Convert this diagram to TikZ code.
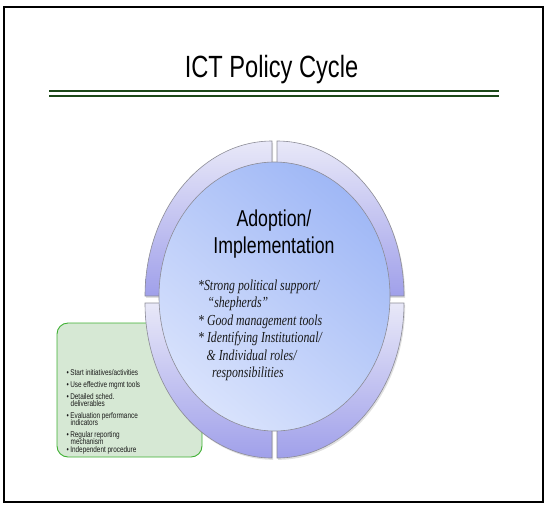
\documentclass[tikz,border=0pt]{standalone}
\usepackage{fontspec}
\setmainfont{Liberation Sans}[FakeStretch=0.77]
\newfontfamily\notefont{Liberation Serif}[FakeStretch=0.77]
\definecolor{rulegreen}{RGB}{28,72,24}
\definecolor{ringlight}{RGB}{232,232,248}
\definecolor{ringdark}{RGB}{160,160,234}
\definecolor{ringedge}{RGB}{140,140,150}
\definecolor{hublight}{RGB}{216,226,252}
\definecolor{hubdark}{RGB}{160,184,246}
\definecolor{boxfill}{RGB}{214,232,212}
\definecolor{boxedge}{RGB}{62,176,50}
\definecolor{inktext}{RGB}{25,25,25}
\tikzset{
  frameline/.style={draw=black, line width=2pt},
  ruleline/.style={draw=rulegreen},
  segment/.style={draw=ringedge, line width=0.6pt, top color=ringlight, bottom color=ringdark},
  segshadow/.style={fill=black, opacity=0.12},
  hub/.style={draw=ringedge, line width=0.6pt, shading=axis, top color=hubdark, bottom color=hublight, shading angle=-40},
  taskbox/.style={draw=boxedge, line width=0.9pt, fill=boxfill, rounded corners=11pt},
  titletext/.style={font=\fontsize{30.7}{34}\selectfont, text=black, anchor=base, inner sep=0pt},
  hubtext/.style={font=\fontsize{23}{26}\selectfont, text=black, anchor=base, inner sep=0pt},
  notetext/.style={font=\notefont\itshape\fontsize{15.3}{17}\selectfont, text=inktext, anchor=base west, inner sep=0pt},
  tasktext/.style={font=\fontsize{8.3}{9}\selectfont, text=inktext, anchor=base west, inner sep=0pt}
}
\begin{document}
\begin{tikzpicture}[x=1pt,y=-1pt]
\useasboundingbox (0,0) rectangle (545,504);

% slide frame
\draw[frameline] (3.5,7) rectangle (542.5,502);

% title and double rule
\node[titletext] (title) at (271.5,77) {ICT Policy Cycle};
\coordinate (ruleA1) at (49,91.3);
\coordinate (ruleA2) at (499,91.3);
\coordinate (ruleB1) at (49,96.3);
\coordinate (ruleB2) at (499,96.3);
\draw[ruleline, line width=2.3pt] (ruleA1) -- (ruleA2);
\draw[ruleline, line width=1.8pt] (ruleB1) -- (ruleB2);

% task list box, partly hidden behind the ring
\draw[taskbox] (57,323) rectangle (202,457);

% ring of four quarter segments
\def\cx{274.5}\def\cy{299.5}\def\gx{2.5}\def\gy{3.5}\def\rx{127}\def\ry{155}
\begin{scope}[shift={(1.2,1.8)}]
  \fill[segshadow] (\cx-\gx,\cy-\gy) -- ++(-\rx,0) arc[start angle=180,end angle=270,x radius=\rx,y radius=\ry] -- cycle;
  \fill[segshadow] (\cx+\gx,\cy-\gy) -- ++(0,-\ry) arc[start angle=270,end angle=360,x radius=\rx,y radius=\ry] -- cycle;
  \fill[segshadow] (\cx+\gx,\cy+\gy) -- ++(\rx,0) arc[start angle=0,end angle=90,x radius=\rx,y radius=\ry] -- cycle;
  \fill[segshadow] (\cx-\gx,\cy+\gy) -- ++(0,\ry) arc[start angle=90,end angle=180,x radius=\rx,y radius=\ry] -- cycle;
\end{scope}
\path[segment] (\cx-\gx,\cy-\gy) -- ++(-\rx,0) arc[start angle=180,end angle=270,x radius=\rx,y radius=\ry] -- cycle;
\path[segment] (\cx+\gx,\cy-\gy) -- ++(0,-\ry) arc[start angle=270,end angle=360,x radius=\rx,y radius=\ry] -- cycle;
\path[segment] (\cx+\gx,\cy+\gy) -- ++(\rx,0) arc[start angle=0,end angle=90,x radius=\rx,y radius=\ry] -- cycle;
\path[segment] (\cx-\gx,\cy+\gy) -- ++(0,\ry) arc[start angle=90,end angle=180,x radius=\rx,y radius=\ry] -- cycle;

% central hub
\path[hub] (274.5,296.5) ellipse[x radius=115.5, y radius=134.5];

\node[hubtext] (hubA) at (274,226) {Adoption/};
\node[hubtext] (hubB) at (274,253) {Implementation};

\node[notetext] (note1) at (198,290.5) {*Strong political support/};
\node[notetext] (note2) at (207.5,307.8) {\char"201C shepherds\char"201D};
\node[notetext] (note3) at (198,325.2) {* Good management tools};
\node[notetext] (note4) at (198,342.6) {* Identifying Institutional/};
\node[notetext] (note5) at (206.5,360) {\& Individual roles/};
\node[notetext] (note6) at (212,377.4) {responsibilities};

% task list
\node[tasktext] (task1)  at (66.5,375)   {\textbullet\,Start initiatives/activities};
\node[tasktext] (task2)  at (66.5,387.5) {\textbullet\,Use effective mgmt tools};
\node[tasktext] (task3a) at (66.5,399)   {\textbullet\,Detailed sched.};
\node[tasktext] (task3b) at (70.5,406.5) {deliverables};
\node[tasktext] (task4a) at (66.5,418)   {\textbullet\,Evaluation performance};
\node[tasktext] (task4b) at (70.5,425.5) {indicators};
\node[tasktext] (task5a) at (66.5,437)   {\textbullet\,Regular reporting};
\node[tasktext] (task5b) at (70.5,444.5) {mechanism};
\node[tasktext] (task6)  at (66.5,452)   {\textbullet\,Independent procedure};
\end{tikzpicture}
\end{document}
